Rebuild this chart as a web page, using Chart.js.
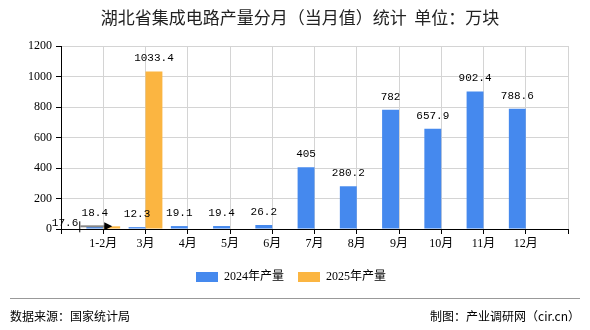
<!DOCTYPE html>
<html>
<head>
<meta charset="utf-8">
<script src="https://cdn.jsdelivr.net/npm/chart.js@4/dist/chart.umd.min.js"></script>
<style>
  html, body { margin: 0; padding: 0; background: #fff; }
</style>
</head>
<body>
<canvas id="myChart" width="590" height="330"></canvas>
<script>
const months = ['1-2月', '3月', '4月', '5月', '6月', '7月', '8月', '9月', '10月', '11月', '12月'];
const output2024 = [18.4, 12.3, 19.1, 19.4, 26.2, 405, 280.2, 782, 657.9, 902.4, 788.6];
const output2025 = [17.6, 1033.4, null, null, null, null, null, null, null, null, null];
const yTicks = [0, 200, 400, 600, 800, 1000, 1200];

// empty slot at each end, like the original axis
const labels = [''].concat(months, ['']);
const pad = arr => [null].concat(arr, [null]);

const cjk = '"Noto Sans CJK SC", sans-serif';
const tickFont = '"Liberation Serif", "Noto Sans CJK SC", serif';

const extras = {
    id: 'extras',
    afterDatasetsDraw(chart) {
        const ctx = chart.ctx;
        ctx.save();
        ctx.font = '11px "Liberation Mono", monospace';
        ctx.fillStyle = '#000';
        ctx.textBaseline = 'middle';
        chart.data.datasets.forEach((ds, i) => {
            chart.getDatasetMeta(i).data.forEach((bar, j) => {
                const v = ds.data[j];
                if (v == null) return;
                if (i === 1 && j === 1) {
                    // label pushed to the left with a pointer
                    const left = bar.x - bar.width / 2;
                    ctx.textAlign = 'right';
                    ctx.fillText(String(v), left - 25, bar.y - 3);
                    ctx.strokeStyle = '#000';
                    ctx.lineWidth = 1;
                    ctx.beginPath();
                    ctx.moveTo(left - 23.5, bar.y - 5);
                    ctx.lineTo(left - 23.5, bar.y + 6);
                    ctx.stroke();
                    ctx.strokeStyle = '#888';
                    ctx.lineWidth = 2;
                    ctx.beginPath();
                    ctx.moveTo(left - 23, bar.y);
                    ctx.lineTo(left + 3, bar.y);
                    ctx.stroke();
                    ctx.fillStyle = '#000';
                    ctx.beginPath();
                    ctx.moveTo(left + 9, bar.y);
                    ctx.lineTo(left + 1, bar.y - 4);
                    ctx.lineTo(left + 1, bar.y + 4);
                    ctx.closePath();
                    ctx.fill();
                    return;
                }
                ctx.textAlign = 'center';
                ctx.fillText(String(v), bar.x, bar.y - 13);
            });
        });
        ctx.restore();
    },
    afterDraw(chart) {
        const ctx = chart.ctx;
        ctx.save();
        ctx.fillStyle = '#222';
        ctx.textBaseline = 'middle';
        ctx.textAlign = 'center';
        ctx.font = '17px ' + cjk;
        ctx.fillText('湖北省集成电路产量分月（当月值）统计  单位：万块', 300, 18);

        ctx.strokeStyle = '#999';
        ctx.lineWidth = 1;
        ctx.beginPath();
        ctx.moveTo(10, 298.5);
        ctx.lineTo(580, 298.5);
        ctx.stroke();

        ctx.font = '12px ' + cjk;
        ctx.fillStyle = '#000';
        ctx.textAlign = 'left';
        ctx.fillText('数据来源：国家统计局', 10, 316);
        ctx.textAlign = 'right';
        ctx.fillText('制图：产业调研网（cir.cn）', 580, 316);
        ctx.restore();
    }
};

new Chart(document.getElementById('myChart'), {
    type: 'bar',
    data: {
        labels: labels,
        datasets: [
            {
                label: '2024年产量',
                data: pad(output2024),
                backgroundColor: '#4589ee',
                categoryPercentage: 0.8,
                barPercentage: 1.0
            },
            {
                label: '2025年产量',
                data: pad(output2025),
                backgroundColor: '#fbb541',
                categoryPercentage: 0.8,
                barPercentage: 1.0
            }
        ]
    },
    options: {
        responsive: false,
        animation: false,
        layout: { padding: { left: 14, right: 22, top: 46, bottom: 37 } },
        plugins: {
            title: { display: false },
            tooltip: { enabled: false },
            legend: {
                position: 'bottom',
                labels: {
                    boxWidth: 22,
                    boxHeight: 10,
                    padding: 14,
                    color: '#000',
                    font: { size: 12, family: tickFont }
                }
            }
        },
        scales: {
            x: {
                offset: false,
                grid: { color: '#d4d4d4', tickColor: '#000', tickLength: 5, offset: false },
                border: { color: '#000', width: 1 },
                ticks: {
                    color: '#000',
                    padding: 3,
                    maxRotation: 0,
                    autoSkip: false,
                    font: { size: 12, family: tickFont }
                },
                afterFit: s => { s.height = 28; }
            },
            y: {
                min: 0,
                max: 1200,
                afterBuildTicks: s => { s.ticks = yTicks.map(v => ({ value: v })); },
                grid: { color: '#d4d4d4', tickColor: '#000', tickLength: 5 },
                border: { color: '#000', width: 1 },
                ticks: {
                    color: '#000',
                    padding: 4,
                    font: { size: 12, family: tickFont },
                    callback: v => String(v)
                },
                afterFit: s => { s.width = 47; }
            }
        }
    },
    plugins: [extras]
});
</script>
</body>
</html>
